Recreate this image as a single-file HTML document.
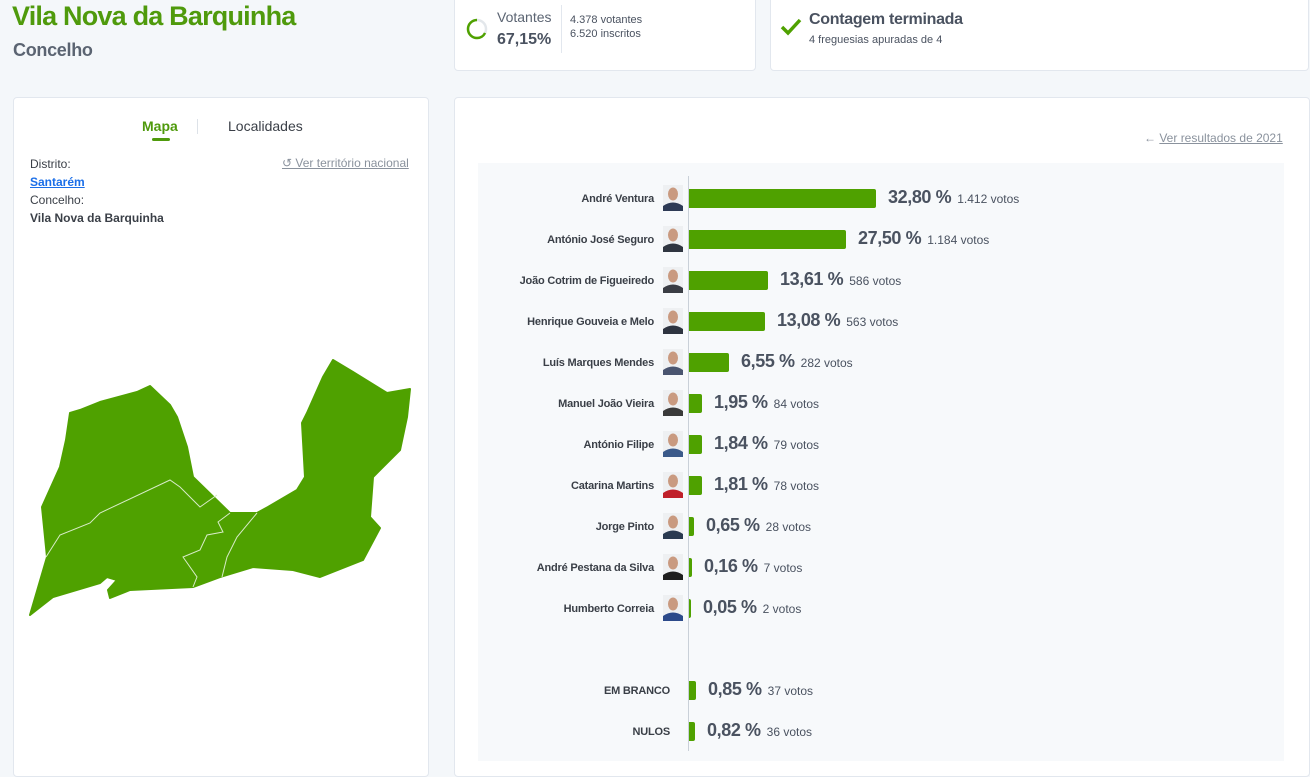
<!DOCTYPE html>
<html><head><meta charset="utf-8"><style>
*{box-sizing:border-box;margin:0;padding:0}
body{width:1310px;height:761px;overflow:hidden;background:#f4f7fa;font-family:"Liberation Sans",sans-serif;position:relative;color:#333}
.a{position:absolute}
.card{position:absolute;background:#fff;border:1px solid #e2e7ee;border-radius:4px}
.nm{position:absolute;right:656px;font-size:11px;font-weight:bold;color:#3a3f47;white-space:nowrap;letter-spacing:-0.2px}
.ph{position:absolute;left:663px;width:20px;height:26px}
.bar{position:absolute;left:689px;height:19px;background:#4fa100;border-radius:0 2px 2px 0}
.pc{position:absolute;font-size:18px;font-weight:bold;color:#4a5260;white-space:nowrap;letter-spacing:-0.4px}
.pc span{font-size:12px;font-weight:normal;color:#4a5260;margin-left:6px;letter-spacing:0}
</style></head><body>
<div class="a" style="left:12px;top:1px;font-size:27px;font-weight:bold;color:#4f9a0c;letter-spacing:-0.8px">Vila Nova da Barquinha</div>
<div class="a" style="left:13px;top:40px;font-size:18px;font-weight:bold;color:#5b6472;letter-spacing:-0.3px">Concelho</div>

<div class="card" style="left:454px;top:-5px;width:302px;height:76px"></div>
<svg class="a" style="left:465px;top:17px" width="24" height="24"><circle cx="12" cy="12" r="9" fill="none" stroke="#e3e7eb" stroke-width="2.5"/><circle cx="12" cy="12" r="9" fill="none" stroke="#4fa100" stroke-width="2.5" stroke-dasharray="38 57" transform="rotate(-90 12 12) scale(1,-1) translate(0,-24)"/></svg>
<div class="a" style="left:497px;top:9px;font-size:14px;color:#5b6472">Votantes</div>
<div class="a" style="left:497px;top:31px;font-size:16px;font-weight:bold;color:#4a5260">67,15%</div>
<div class="a" style="left:561px;top:5px;width:1px;height:48px;background:#e2e7ee"></div>
<div class="a" style="left:570px;top:13px;font-size:11px;color:#4a5260;line-height:14px">4.378 votantes<br>6.520 inscritos</div>

<div class="card" style="left:770px;top:-5px;width:539px;height:76px"></div>
<svg class="a" style="left:780px;top:18px" width="22" height="18"><path d="M2 9 L8 15 L20 2" fill="none" stroke="#4fa100" stroke-width="3.5"/></svg>
<div class="a" style="left:809px;top:11px;font-size:16px;font-weight:bold;color:#4a5260;letter-spacing:-0.3px">Contagem terminada</div>
<div class="a" style="left:809px;top:34px;font-size:11px;color:#4a5260">4 freguesias apuradas de 4</div>

<div class="card" style="left:13px;top:97px;width:416px;height:680px"></div>
<div class="a" style="left:142px;top:118px;font-size:14px;font-weight:bold;color:#4f9a0c">Mapa</div>
<div class="a" style="left:152px;top:138px;width:18px;height:3px;background:#4f9a0c;border-radius:2px"></div>
<div class="a" style="left:197px;top:119px;width:1px;height:15px;background:#dde2e8"></div>
<div class="a" style="left:228px;top:118px;font-size:14px;color:#3a3f47">Localidades</div>
<div class="a" style="left:30px;top:155px;font-size:12px;color:#3a3f47;line-height:18px">Distrito:<br><span style="color:#1a6ee8;text-decoration:underline;font-weight:bold">Santarém</span><br>Concelho:<br><b>Vila Nova da Barquinha</b></div>
<div class="a" style="left:282px;top:156px;font-size:12px;color:#8a929d;text-decoration:underline">↺ Ver território nacional</div>
<svg class="a" style="left:0;top:0" width="430" height="761">
<path d="M30,615 L47,557 L42,507 L60,467 L66,440 L70,413 L80,410 L100,402 L137,392 L150,386 L170,405 L177,417 L187,447 L193,477 L230,513 L257,513 L268,507 L297,490 L305,477 L302,423 L307,413 L323,377 L333,360 L353,372 L387,393 L410,389 L407,417 L400,450 L373,477 L370,517 L380,528 L363,560 L320,577 L293,570 L253,567 L220,577 L193,587 L130,590 L110,598 L108,590 L117,580 L107,577 L100,583 L53,597 Z" fill="#4fa100" stroke="#4fa100" stroke-width="2" stroke-linejoin="round"/>
<path d="M46,557 L60,535 L90,523 L100,513 L170,480 L180,487 L193,500 L200,507 L217,495" fill="none" stroke="#d8ecc8" stroke-width="1"/>
<path d="M230,513 L218,522 L223,532 L207,535 L200,550 L183,557 L197,577 L193,587" fill="none" stroke="#d8ecc8" stroke-width="1"/>
<path d="M257,513 L237,537 L227,557 L222,577" fill="none" stroke="#d8ecc8" stroke-width="1"/>
</svg>

<div class="card" style="left:454px;top:97px;width:856px;height:680px"></div>
<div class="a" style="left:1144px;top:131px;font-size:12px;color:#8a929d;white-space:nowrap">← <span style="text-decoration:underline">Ver resultados de 2021</span></div>
<div class="a" style="left:478px;top:163px;width:806px;height:598px;background:#f7f9fb"></div>
<div class="a" style="left:688px;top:176px;width:1px;height:575px;background:#c9d0d8"></div>

<div id="rows"></div>
<script>
var d=[["André Ventura",187,"32,80 %","1.412 votos",1],["António José Seguro",157,"27,50 %","1.184 votos",1],["João Cotrim de Figueiredo",79,"13,61 %","586 votos",1],["Henrique Gouveia e Melo",76,"13,08 %","563 votos",1],["Luís Marques Mendes",40,"6,55 %","282 votos",1],["Manuel João Vieira",13,"1,95 %","84 votos",1],["António Filipe",13,"1,84 %","79 votos",1],["Catarina Martins",13,"1,81 %","78 votos",1],["Jorge Pinto",5,"0,65 %","28 votos",1],["André Pestana da Silva",3,"0,16 %","7 votos",1],["Humberto Correia",2,"0,05 %","2 votos",1]];
var cols=["#2d3a55","#2f3540","#3a3d44","#2e3440","#4a5570","#3a3a3a","#3b5a8a","#c0202a","#2a3a50","#1e1e1e","#2c4a8a"];
var h="";
function row(y,n,w,p,v,ph,i){
 h+='<div class="nm" style="top:'+(y-5)+'px;'+(ph?'':'right:640px;')+'">'+n+'</div>';
 if(ph)h+='<svg class="ph" style="top:'+(y-13)+'px" viewBox="0 0 20 26"><rect width="20" height="26" fill="#eef0f2"/><ellipse cx="10" cy="9" rx="5" ry="6.5" fill="#c99a80"/><path d="M0 26 L0 21 Q10 14 20 21 L20 26Z" fill="'+cols[i]+'"/></svg>';
 h+='<div class="bar" style="top:'+(y-9)+'px;width:'+w+'px"></div>';
 h+='<div class="pc" style="top:'+(y-11)+'px;left:'+(689+w+12)+'px">'+p+'<span>'+v+'</span></div>';
}
for(var i=0;i<d.length;i++)row(198+41*i,d[i][0],d[i][1],d[i][2],d[i][3],1,i);
row(690,"EM BRANCO",7,"0,85 %","37 votos",0,0);
row(731,"NULOS",6,"0,82 %","36 votos",0,0);
document.getElementById("rows").innerHTML=h;
</script>
</body></html>
